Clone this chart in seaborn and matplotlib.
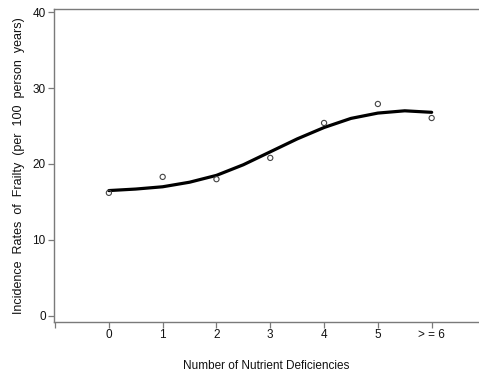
import matplotlib
matplotlib.use("Agg")
import matplotlib.pyplot as plt
import seaborn as sns
import pandas as pd

# Observed incidence of frailty by number of nutrient deficiencies
deficiencies = [0, 1, 2, 3, 4, 5, 6]
incidence = [16.2, 18.3, 18.0, 20.8, 25.4, 27.9, 26.05]

# Smoothed trend of the incidence rates
trend_x = [0, 0.5, 1, 1.5, 2, 2.5, 3, 3.5, 4, 4.5, 5, 5.5, 6]
trend_y = [16.5, 16.7, 17.0, 17.6, 18.5, 19.9, 21.6, 23.3, 24.8, 26.0, 26.7, 27.0, 26.8]

tick_positions = [-1, 0, 1, 2, 3, 4, 5, 6]
tick_labels = ["", "0", "1", "2", "3", "4", "5", "> = 6"]
y_ticks = [0, 10, 20, 30, 40]

obs = pd.DataFrame({"deficiencies": deficiencies, "incidence": incidence})
trend = pd.DataFrame({"deficiencies": trend_x, "incidence": trend_y})

sns.set_style("white")
plt.rcParams["font.family"] = ["Liberation Sans", "DejaVu Sans"]

W, H = 479, 376
fig = plt.figure(figsize=(W / 100, H / 100), dpi=100)
ax = fig.add_axes([54 / W, 1 - 322 / H, (W - 54) / W, (322 - 9) / H])

sns.lineplot(data=trend, x="deficiencies", y="incidence", ax=ax,
             color="black", linewidth=2.3, estimator=None, sort=True)
sns.scatterplot(data=obs, x="deficiencies", y="incidence", ax=ax,
                marker="o", s=14, facecolor="none", edgecolor="#444444",
                linewidth=0.8, zorder=3)

ax.set_xlim(-1.02, 6.88)
ax.set_ylim(-0.8, 40.4)
ax.set_xticks(tick_positions)
ax.set_xticklabels(tick_labels)
ax.set_yticks(y_ticks)

spine_col = "#7a7a7a"
for side in ["left", "bottom", "top"]:
    ax.spines[side].set_color(spine_col)
    ax.spines[side].set_linewidth(1.0)
ax.spines["right"].set_visible(False)

ax.tick_params(axis="both", which="major", direction="out", length=4,
               width=0.9, color=spine_col, labelsize=8.5, labelcolor="#111111",
               bottom=True, left=True)
ax.tick_params(axis="x", pad=1)
ax.tick_params(axis="y", pad=2)

ax.set_xlabel("Number of Nutrient Deficiencies", fontsize=8.5, color="#111111",
              labelpad=14)
ax.set_ylabel("Incidence  Rates  of  Frailty  (per  100  person  years)",
              fontsize=9, color="#111111", labelpad=5)

fig.savefig("out.png", dpi=100)
